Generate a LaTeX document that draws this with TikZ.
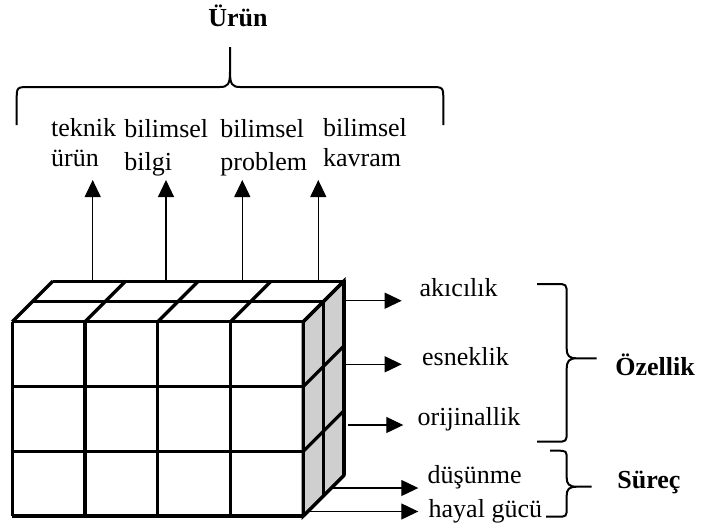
\documentclass[tikz,border=0pt]{standalone}
\usepackage{fontspec}
\setmainfont{Liberation Serif}
\usetikzlibrary{arrows.meta}
\begin{document}
\begin{tikzpicture}[x=0.5pt,y=-0.5pt]
        % Styles
        \tikzstyle{cube line}=[line width=1.6pt]
        \tikzstyle{side face}=[fill=black!19]
        \tikzstyle{arrow line}=[line width=0.6pt,-{Triangle[length=8.5pt,width=8pt]}]
        \tikzstyle{brace line}=[line width=1pt]
        \tikzstyle{label text}=[inner sep=0pt,anchor=base west,font=\fontsize{13}{15}\selectfont]
        \tikzstyle{title text}=[label text,font=\fontsize{13}{15}\selectfont\bfseries]
        \useasboundingbox (0,0) rectangle (702,531);
        %The graphic
        %cube
        \filldraw[side face,cube line] (303.3,321.7) -- (343.9,281.1) -- (343.9,475.4) -- (303.3,516) -- cycle;
        \begin{scope}[style=cube line]
            \foreach \i in {0,...,4}
            \draw (12.3+72.75*\i,321.7) -- ++(0,194.3);
            \foreach \j in {0,...,3}
            \draw (12.3,321.7+64.77*\j) -- ++(291,0);
            \foreach \i in {0,...,4}
            \draw (12.3+72.75*\i,321.7) -- ++(40.6,-40.6);
            \foreach \k in {1,2}
            \draw (12.3+20.3*\k,321.7-20.3*\k) -- ++(291,0) -- ++(0,194.3);
            \foreach \j in {1,2,3}
            \draw (303.3,321.7+64.77*\j) -- ++(40.6,-40.6);
        \end{scope}
        %product arrows
        \foreach \n/\x in {1/92.7,2/166,3/242.3,4/318.3}{
            \coordinate (foot\n) at (\x,281.1);
            \coordinate (tip\n) at (\x,180);
            \draw[arrow line] (foot\n) -- (tip\n);
        }
        \foreach \n/\x/\ya/\yb/\wa/\wb in {1/50.7/136.7/166.7/teknik/ürün,2/124/137.7/170/bilimsel/bilgi,3/220/137.7/170/bilimsel/problem,4/322.7/136/166.7/bilimsel/kavram}{
            \node[label text] (prod\n a) at (\x,\ya) {\wa};
            \node[label text] (prod\n b) at (\x,\yb) {\wb};
        }
        \node[title text,anchor=base] (urun) at (238,26.7) {Ürün};
        %property and process arrows
        \foreach \n/\xa/\xb/\y/\lx/\ly/\txt in {1/343.9/401.7/300.7/419.3/296.7/akıcılık,2/343.9/401.7/364.3/421.7/365/esneklik,3/348.3/403.3/425/417.3/425/orijinallik,4/331/418.3/488/427.3/483.3/düşünme,5/307.8/418.3/511.5/428.3/517/hayal gücü}{
            \coordinate (side\n) at (\xa,\y);
            \coordinate (head\n) at (\xb,\y);
            \draw[arrow line] (side\n) -- (head\n);
            \node[label text] (prop\n) at (\lx,\ly) {\txt};
        }
        \node[title text] (ozellik) at (615,375) {Özellik};
        \node[title text] (surec) at (617,488.3) {Süreç};
        %braces
        \draw[brace line] (16.7,125) -- (16.7,100) .. controls (16.7,87) .. (30,87) -- (220,87)
            .. controls (228,87) and (230,84) .. (230,72) -- (230,47) -- (230,72)
            .. controls (230,84) and (232,87) .. (240,87) -- (430,87)
            .. controls (443.3,87) .. (443.3,100) -- (443.3,125);
        \draw[brace line] (537,284) -- (556,284) .. controls (566.7,284) .. (566.7,295) -- (566.7,348)
            .. controls (566.7,356) and (569,358.3) .. (577,358.3) -- (596.7,358.3) -- (577,358.3)
            .. controls (569,358.3) and (566.7,361) .. (566.7,369) -- (566.7,431)
            .. controls (566.7,441.7) .. (556,441.7) -- (537,441.7);
        \draw[brace line] (550,450.7) -- (557,450.7) .. controls (566.7,450.7) .. (566.7,460) -- (566.7,477)
            .. controls (566.7,484.5) and (569,486.7) .. (577,486.7) -- (591.7,486.7) -- (577,486.7)
            .. controls (569,486.7) and (566.7,489) .. (566.7,496) -- (566.7,507)
            .. controls (566.7,516.7) .. (557,516.7) -- (546,516.7);
    \end{tikzpicture}
\end{document}
